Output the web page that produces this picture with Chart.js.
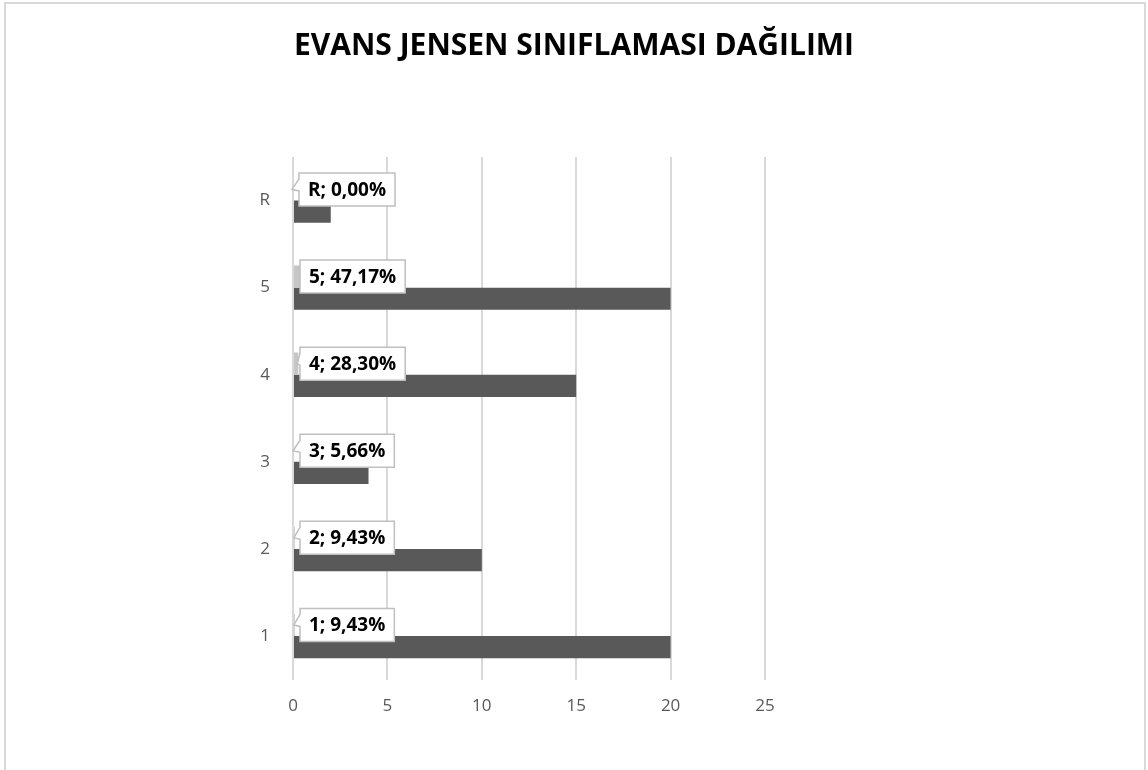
<!DOCTYPE html>
<html><head><meta charset="utf-8">
<script src="https://cdn.jsdelivr.net/npm/chart.js@4"></script>
<style>
html,body{margin:0;padding:0;background:#fff;overflow:hidden}
#wrap{position:relative;width:1148px;height:770px}
#frame{position:absolute;left:4px;top:2px;width:1142px;height:800px;border:2px solid #d9d9d9;pointer-events:none;box-sizing:border-box}
</style></head><body>
<div id="wrap"><canvas id="c" width="1148" height="770"></canvas><div id="frame"></div></div>
<script>
const categories = ['1','2','3','4','5','R'];
const counts = [20, 10, 4, 15, 20, 2];
const sharesPct = [9.43, 9.43, 5.66, 28.30, 47.17, 0.00];
const xTickValues = [0, 5, 10, 15, 20, 25];
const chartTitle = 'EVANS JENSEN SINIFLAMASI DAĞILIMI';

const FONT = '"Open Sans", Lato, sans-serif';

const titlePlugin = {
  id: 'centerTitle',
  afterDraw(chart) {
    const ctx = chart.ctx;
    ctx.save();
    ctx.font = 'bold 30px ' + FONT;
    ctx.fillStyle = '#000000';
    ctx.textAlign = 'center';
    ctx.textBaseline = 'alphabetic';
    ctx.fillText(chartTitle, chart.width / 2, 55);
    ctx.restore();
  }
};

const labelPlugin = {
  id: 'calloutLabels',
  afterDatasetsDraw(chart) {
    const ctx = chart.ctx;
    const meta = chart.getDatasetMeta(0);
    ctx.save();
    ctx.font = 'bold 19px ' + FONT;
    meta.data.forEach((el, i) => {
      const txt = categories[i] + '; ' + sharesPct[i].toFixed(2).replace('.', ',') + '%';
      const tw = ctx.measureText(txt).width;
      const bw = tw + 18, bh = 33;
      const bx = el.base + 6, by = el.y - bh / 2;
      const tipX = el.x - 1, tipY = el.y;
      ctx.beginPath();
      ctx.moveTo(bx, by);
      ctx.lineTo(bx + bw, by);
      ctx.lineTo(bx + bw, by + bh);
      ctx.lineTo(bx, by + bh);
      if (tipX < bx) {
        ctx.lineTo(bx, by + 18);
        ctx.lineTo(tipX, tipY);
        ctx.lineTo(bx, by + 6);
      }
      ctx.closePath();
      ctx.fillStyle = '#ffffff';
      ctx.fill();
      ctx.strokeStyle = '#bfbfbf';
      ctx.lineWidth = 1.5;
      ctx.stroke();
      ctx.fillStyle = '#000000';
      ctx.textBaseline = 'middle';
      ctx.textAlign = 'left';
      ctx.fillText(txt, bx + 9, el.y + 1);
    });
    ctx.restore();
  }
};

new Chart(document.getElementById('c'), {
  type: 'bar',
  data: {
    labels: categories,
    datasets: [
      { label: 'Yüzde', data: sharesPct.map(v => v / 100), backgroundColor: '#c6c6c6' },
      { label: 'Sayı', data: counts, backgroundColor: '#595959' }
    ]
  },
  options: {
    indexAxis: 'y',
    responsive: false,
    animation: false,
    layout: { padding: { left: 0, right: 383, top: 157, bottom: 38 } },
    datasets: { bar: { categoryPercentage: 0.51, barPercentage: 1.0 } },
    plugins: {
      legend: { display: false },
      tooltip: { enabled: false },
      title: { display: false }
    },
    scales: {
      x: {
        min: 0, max: 25,
        afterBuildTicks: s => { s.ticks = xTickValues.map(v => ({ value: v })); },
        grid: { color: '#d9d9d9', lineWidth: 2, drawTicks: false },
        border: { display: false },
        ticks: { color: '#595959', font: { family: FONT, size: 17 }, padding: 16 }
      },
      y: {
        reverse: true,
        afterFit: s => { s.width = 293; },
        grid: { display: false, drawTicks: false },
        border: { display: false },
        ticks: { color: '#595959', font: { family: FONT, size: 17 }, padding: 23 }
      }
    }
  },
  plugins: [labelPlugin, titlePlugin]
});
</script>
</body></html>
